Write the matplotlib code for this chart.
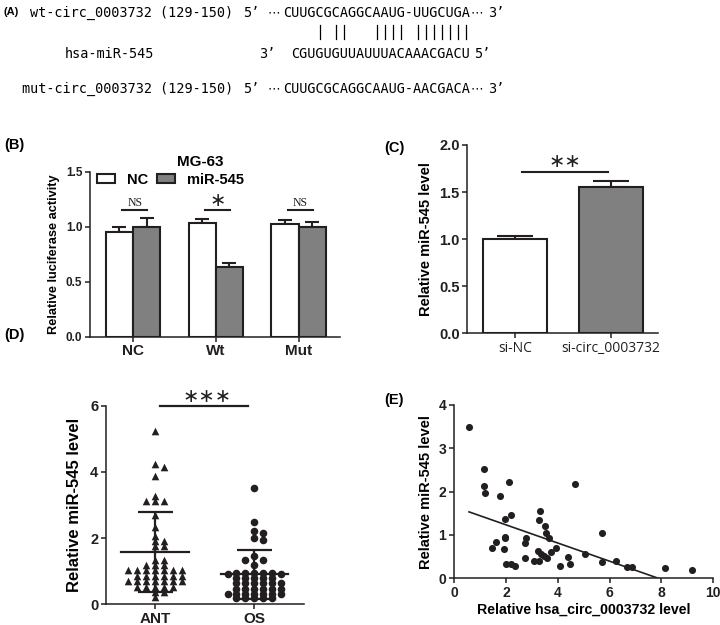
import matplotlib
matplotlib.use("Agg")
import matplotlib.pyplot as plt
import numpy as np
from matplotlib.lines import Line2D
from matplotlib.patches import Rectangle

# ---------------- data ----------------
wt_label = "wt-circ_0003732 (129-150)"
mut_label = "mut-circ_0003732 (129-150)"
mir_label = "hsa-miR-545"
wt_seq = "CUUGCGCAGGCAAUG-UUGCUGA"
mir_seq = "CGUGUGUUAUUUACAAACGACU"   # written 3'->5'
mut_seq = "CUUGCGCAGGCAAUG-AACGACA"

luc_groups = ["NC", "Wt", "Mut"]
luc_nc = [0.955, 1.036, 1.027]
luc_nc_err = [0.04, 0.035, 0.03]
luc_mir = [1.0, 0.636, 0.995]
luc_mir_err = [0.075, 0.035, 0.05]
luc_sig = ["NS", "*", "NS"]

si_groups = ["si-NC", "si-circ_0003732"]
si_vals = [1.0, 1.557]
si_err = [0.033, 0.06]

ant_vals = [5.25, 4.25, 4.15, 3.88, 3.28, 3.12, 3.12, 3.12, 2.7, 2.34, 2.07,
            1.91, 1.91, 1.75, 1.75,
            1.33, 1.33, 1.19, 1.19, 1.19,
            1.03, 1.03, 1.03, 1.03, 1.03, 1.03, 1.03,
            0.87, 0.87, 0.87, 0.87, 0.87, 0.87,
            0.70, 0.70, 0.70, 0.70, 0.70, 0.70, 0.70,
            0.52, 0.52, 0.52, 0.52, 0.52, 0.38, 0.38, 0.22]
os_vals = [3.5, 2.5, 2.2, 2.15, 2.0, 1.95, 1.45, 1.35, 1.35, 1.2,
           0.95, 0.95, 0.95, 0.95, 0.95, 0.92, 0.92,
           0.79, 0.79, 0.79, 0.79, 0.79,
           0.63, 0.63, 0.63, 0.63, 0.63, 0.63,
           0.47, 0.47, 0.47, 0.47, 0.47, 0.47,
           0.32, 0.32, 0.32, 0.32, 0.32, 0.32, 0.32,
           0.18, 0.18, 0.18, 0.18, 0.18]
tissue_mean = [1.57, 0.905]
tissue_sd = [1.21, 0.735]

circ_x = [0.58, 1.16, 1.15, 1.2, 2.14, 1.79, 4.67, 3.31, 1.98, 2.2, 3.26, 3.5,
          3.55, 3.67, 5.70, 1.95, 1.98, 2.77, 2.75, 1.61, 1.45, 1.93, 3.23,
          3.36, 3.49, 3.58, 3.75, 3.95, 2.74, 3.09, 3.27, 4.41, 4.47, 1.99,
          2.19, 2.35, 4.09, 5.07, 5.70, 6.25, 6.69, 6.85, 8.13, 9.17]
mir_y = [3.5, 2.52, 2.13, 1.98, 2.22, 1.91, 2.18, 1.55, 1.37, 1.45, 1.35, 1.21,
         1.05, 0.94, 1.04, 0.96, 0.92, 0.93, 0.81, 0.84, 0.71, 0.67, 0.64,
         0.56, 0.51, 0.47, 0.6, 0.7, 0.48, 0.4, 0.39, 0.49, 0.33, 0.33,
         0.33, 0.29, 0.29, 0.56, 0.38, 0.40, 0.27, 0.27, 0.23, 0.20]
fit_slope, fit_intercept = -0.21, 1.655

# ---------------- style ----------------
plt.rcParams['font.family'] = ['Liberation Sans', 'DejaVu Sans']
plt.rcParams['font.weight'] = 'bold'
plt.rcParams['axes.labelweight'] = 'bold'
ink = "#231f20"
grey = "#808080"
W, H = 720, 625

fig = plt.figure(figsize=(7.2, 6.25), dpi=100)


def fx(x):
    return x / W


def fy(y):
    return 1 - y / H


def style_axes(ax, fs):
    for s in ["top", "right"]:
        ax.spines[s].set_visible(False)
    for s in ["left", "bottom"]:
        ax.spines[s].set_linewidth(1.1)
        ax.spines[s].set_color(ink)
    ax.tick_params(direction="out", length=3.5, width=1.1, colors=ink,
                   labelsize=fs, pad=2)


# ---------------- (A) sequences ----------------
mono = "DejaVu Sans Mono"
seq_fs = 9.75
cw = seq_fs * 0.602 * 100 / 72
seq_x0 = 283
rows = [(13, wt_label, "5\u2019", wt_seq, "3\u2019"),
        (89, mut_label, "5\u2019", mut_seq, "3\u2019")]
for y, lab, end5, seq, end3 in rows:
    fig.text(fx(233), fy(y), lab, family=mono, fontsize=seq_fs,
             weight="normal", ha="right", va="center")
    fig.text(fx(243), fy(y), end5, family=mono, fontsize=seq_fs,
             weight="normal", ha="left", va="center")
    fig.text(fx(268), fy(y), "\u22ef", family="DejaVu Sans", fontsize=9,
             weight="normal", ha="left", va="center")
    fig.text(fx(seq_x0), fy(y), seq, family=mono, fontsize=seq_fs,
             weight="normal", ha="left", va="center")
    fig.text(fx(seq_x0 + cw * len(seq)), fy(y), "\u22ef", family="DejaVu Sans",
             fontsize=9, weight="normal", ha="left", va="center")
    fig.text(fx(488), fy(y), end3, family=mono, fontsize=seq_fs,
             weight="normal", ha="left", va="center")

fig.text(fx(65), fy(54), mir_label, family=mono, fontsize=seq_fs,
         weight="normal", ha="left", va="center")
fig.text(fx(259), fy(54), "3\u2019", family=mono, fontsize=seq_fs,
         weight="normal", ha="left", va="center")
fig.text(fx(seq_x0 + cw), fy(54), mir_seq, family=mono, fontsize=seq_fs,
         weight="normal", ha="left", va="center")
fig.text(fx(seq_x0 + cw * (len(mir_seq) + 1) + 4), fy(54), "5\u2019",
         family=mono, fontsize=seq_fs, weight="normal", ha="left", va="center")

pairs = {("A", "U"), ("U", "A"), ("G", "C"), ("C", "G")}
for i, b in enumerate(wt_seq):
    j = i - 1
    if 0 <= j < len(mir_seq) and (b, mir_seq[j]) in pairs:
        xc = fx(seq_x0 + cw * (i + 0.5))
        fig.add_artist(Line2D([xc, xc], [fy(25), fy(39)], color="black", lw=0.9))

fig.text(fx(4), fy(12), "(A)", fontsize=8, ha="left", va="center")

# ---------------- (B) luciferase ----------------
axB = fig.add_axes([fx(90), fy(336.7), fx(250), 165 / H])
xb = np.arange(len(luc_groups))
bw = 0.33
axB.bar(xb - bw / 2, luc_nc, bw, color="white", edgecolor=ink, lw=1.5,
        label="NC", zorder=2)
axB.bar(xb + bw / 2, luc_mir, bw, color=grey, edgecolor=ink, lw=1.5,
        label="miR-545", zorder=2)
axB.errorbar(xb - bw / 2, luc_nc, yerr=[np.zeros(3), luc_nc_err], fmt="none",
             ecolor=ink, elinewidth=1.5, capsize=5, capthick=1.5, zorder=1)
axB.errorbar(xb + bw / 2, luc_mir, yerr=[np.zeros(3), luc_mir_err], fmt="none",
             ecolor=ink, elinewidth=1.5, capsize=5, capthick=1.5, zorder=1)
for i, s in enumerate(luc_sig):
    axB.plot([i - 0.13, i + 0.17], [1.15, 1.15], color=ink, lw=1.5)
    if s == "*":
        axB.text(i + 0.02, 1.15, "\u2217", family="DejaVu Sans", fontsize=14,
                 weight="normal", ha="center", va="bottom", color=ink)
    else:
        axB.text(i + 0.02, 1.16, s, family="Liberation Serif", fontsize=8.5,
                 weight="normal", ha="center", va="bottom", color=ink)
axB.set_xlim(-0.52, 2.5)
axB.set_ylim(0, 1.5)
axB.set_yticks([0, 0.5, 1.0, 1.5])
axB.set_yticklabels(["0.0", "0.5", "1.0", "1.5"])
axB.set_xticks(xb)
axB.set_xticklabels(luc_groups)
style_axes(axB, 8.5)
axB.tick_params(axis="x", labelsize=11)
axB.set_ylabel("Relative luciferase activity", fontsize=9.2, labelpad=4)
axB.text(0.44, 1.06, "MG-63", transform=axB.transAxes, fontsize=11,
         ha="center", va="center")
handles = [Rectangle((0, 0), 1, 1, facecolor="white", edgecolor=ink, lw=1.5),
           Rectangle((0, 0), 1, 1, facecolor=grey, edgecolor=ink, lw=1.5)]
axB.legend(handles, ["NC", "miR-545"], loc="center left",
           bbox_to_anchor=(0.028, 0.95), ncol=2, frameon=False, fontsize=10.5,
           handlelength=1.25, handleheight=0.6, handletextpad=0.8,
           columnspacing=0.6, borderpad=0, borderaxespad=0)
fig.text(fx(4), fy(145), "(B)", fontsize=10.5, ha="left", va="center")

# ---------------- (C) knockdown ----------------
axC = fig.add_axes([fx(467.3), fy(333.3), 191 / W, 188.3 / H])
xc_ = np.arange(len(si_groups))
axC.bar(xc_, si_vals, 0.67, color=["white", grey], edgecolor=ink, lw=1.5,
        zorder=2)
axC.errorbar(xc_, si_vals, yerr=[np.zeros(2), si_err], fmt="none", ecolor=ink,
             elinewidth=1.5, capsize=13, capthick=1.5, zorder=1)
axC.plot([0.067, 0.969], [1.715, 1.715], color=ink, lw=1.5)
axC.text(0.52, 1.72, "\u2217\u2217", family="DejaVu Sans", fontsize=14,
         weight="normal", ha="center", va="bottom", color=ink)
axC.set_xlim(-0.503, 1.5)
axC.set_ylim(0, 2.0)
axC.set_yticks([0, 0.5, 1.0, 1.5, 2.0])
axC.set_yticklabels(["0.0", "0.5", "1.0", "1.5", "2.0"])
axC.set_xticks(xc_)
axC.set_xticklabels(si_groups, family="Open Sans", weight="normal", fontsize=10)
style_axes(axC, 10.5)
axC.tick_params(axis="x", labelsize=10)
axC.set_ylabel("Relative miR-545 level", fontsize=10.5, labelpad=4)
fig.text(fx(384), fy(148), "(C)", fontsize=10.5, ha="left", va="center")

# ---------------- (D) tissues ----------------
axD = fig.add_axes([fx(106), fy(604.3), 198 / W, 198.6 / H])


def swarm(vals, center, step, sx, sy, wx, wy):
    # beeswarm: try 0, +step, -step, +2step ... until the marker box is free
    placed = []
    xs = np.zeros(len(vals))
    for idx in np.argsort(vals, kind="stable")[::-1]:
        v = vals[idx]
        k = 0
        ok = False
        while not ok:
            for off in ([0] if k == 0 else [k * step, -k * step]):
                cx = center + off
                ok = all(abs(cx - px) * sx >= wx or abs(v - py) * sy >= wy
                         for px, py in placed)
                if ok:
                    break
            k += 1
        placed.append((cx, v))
        xs[idx] = cx
    return xs


sx, sy = 99.3, 33.15
ant_x = swarm(ant_vals, 0, 0.09, sx, sy, 8.0, 4.5)
os_x = swarm(os_vals, 1, 0.09, sx, sy, 8.0, 4.5)
axD.scatter(ant_x, ant_vals, marker="^", s=30, color=ink, lw=0, zorder=3)
axD.scatter(os_x, os_vals, marker="o", s=30, color=ink, lw=0, zorder=3)
for i, (m, sd) in enumerate(zip(tissue_mean, tissue_sd)):
    axD.plot([i - 0.34, i + 0.34], [m, m], color=ink, lw=1.6, zorder=4)
    axD.errorbar(i, m, yerr=sd, fmt="none", ecolor=ink, elinewidth=1.6,
                 capsize=12.6, capthick=1.6, zorder=4)
axD.plot([0.05, 0.94], [6, 6], color=ink, lw=1.6, clip_on=False)
axD.text(0.52, 5.98, "\u2217\u2217\u2217", family="DejaVu Sans", fontsize=14,
         weight="normal", ha="center", va="bottom", color=ink)
axD.set_xlim(-0.493, 1.5)
axD.set_ylim(0, 6)
axD.set_yticks([0, 2, 4, 6])
axD.set_xticks([0, 1])
axD.set_xticklabels(["ANT", "OS"])
style_axes(axD, 10.5)
axD.tick_params(axis="x", labelsize=11)
axD.set_ylabel("Relative miR-545 level", fontsize=12, labelpad=6)
fig.text(fx(4), fy(335), "(D)", fontsize=10.5, ha="left", va="center")

# ---------------- (E) correlation ----------------
axE = fig.add_axes([fx(454), fy(578.3), 259.3 / W, 173.3 / H])
axE.scatter(circ_x, mir_y, s=26, color=ink, lw=0, zorder=3)
xl = np.array([min(circ_x), max(circ_x)])
axE.plot(xl, fit_slope * xl + fit_intercept, color=ink, lw=1.2)
axE.set_xlim(0, 10)
axE.set_ylim(0, 4)
axE.set_xticks([0, 2, 4, 6, 8, 10])
axE.set_yticks([0, 1, 2, 3, 4])
style_axes(axE, 10)
axE.set_xlabel("Relative hsa_circ_0003732 level", fontsize=10.2, labelpad=2)
axE.set_ylabel("Relative miR-545 level", fontsize=10.5, labelpad=4)
fig.text(fx(384), fy(400), "(E)", fontsize=10.5, ha="left", va="center")

fig.savefig("out.png", dpi=100, facecolor="white")
